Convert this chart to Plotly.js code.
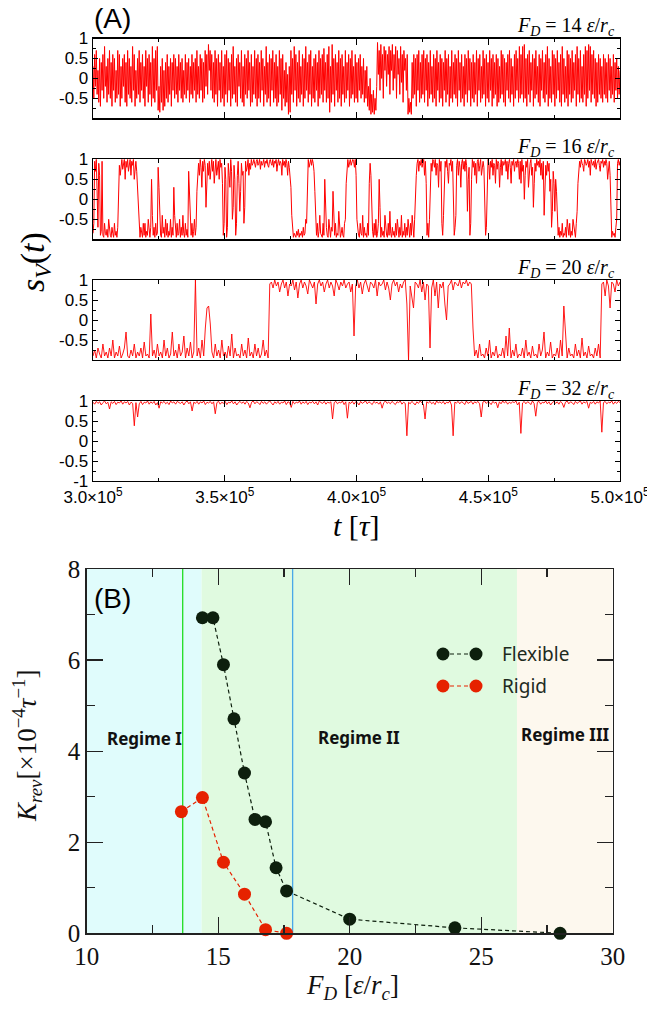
<!DOCTYPE html>
<html>
<head>
<meta charset="utf-8">
<script src="https://cdn.plot.ly/plotly-3.0.1.min.js"></script>
<style>html,body{margin:0;padding:0;background:#fff;}#chart{width:647px;height:1009px;}</style>
</head>
<body>
<div id="chart"></div>
<script>
// ---------------- DATA ----------------
// Panel (A): time window and S_V(t) samples on an even time grid
const tStart = 3.0e5;
const tEnd = 5.0e5;
const timeTickVals = [3.0e5, 3.5e5, 4.0e5, 4.5e5, 5.0e5];
const timeTickText = ['3.0×10<sup>5</sup>', '3.5×10<sup>5</sup>', '4.0×10<sup>5</sup>', '4.5×10<sup>5</sup>', '5.0×10<sup>5</sup>'];
const panelLabels = ['14', '16', '20', '32'];

const sv14 = [
 0.3,-0.5,0.6,-0.2,0.7,-0.4,0.2,-0.6,0.5,-0.7,0.4,-0.3,0.6,-0.5,0.8,-0.2,0.3,-0.6,0.5,-0.4,
 0.7,-0.5,0.4,-0.7,0.6,-0.3,0.5,-0.6,0.2,-0.5,0.7,-0.4,0.6,-0.7,0.3,-0.5,0.5,-0.2,0.6,-0.6,
 0.4,-0.7,0.7,-0.4,0.5,-0.5,0.3,-0.6,0.8,-0.3,0.6,-0.7,0.2,-0.5,0.5,-0.4,0.7,-0.6,0.4,-0.3,
 0.6,-0.5,0.3,-0.7,0.7,-0.2,0.5,-0.6,0.6,-0.4,0.4,-0.7,0.8,-0.5,0.5,-0.6,0.7,-0.3,0.8,-0.8,
 -0.2,-0.85,0.3,-0.6,0.5,-0.8,0.2,-0.7,0.4,-0.5,0.6,-0.6,0.3,-0.4,0.5,-0.7,0.4,-0.3,0.6,-0.5,
 0.5,-0.4,0.3,-0.6,0.6,-0.3,0.4,-0.5,0.5,-0.6,0.2,-0.4,0.6,-0.5,0.4,-0.3,0.5,-0.6,0.3,-0.4,
 0.6,-0.5,0.4,-0.3,0.5,-0.6,0.7,-0.4,0.3,-0.5,0.6,-0.3,0.5,-0.6,0.4,-0.5,0.7,-0.2,0.6,-0.4,
 0.85,0.2,0.7,-0.3,0.6,-0.5,0.4,-0.6,0.7,-0.4,0.5,-0.7,0.6,-0.3,0.4,-0.6,0.7,-0.5,0.3,-0.7,
 0.6,-0.4,0.7,-0.6,0.5,-0.3,0.4,-0.7,0.6,-0.5,0.8,-0.4,0.3,-0.6,0.5,-0.7,0.6,-0.2,0.4,-0.5,
 0.7,-0.6,0.3,-0.7,0.6,-0.4,0.5,-0.5,0.7,-0.3,0.4,-0.7,0.6,-0.6,0.3,-0.4,0.7,-0.5,0.5,-0.7,
 0.6,-0.5,0.4,-0.6,0.7,-0.3,0.5,-0.7,0.3,-0.4,0.8,-0.6,0.4,-0.5,0.6,-0.7,0.5,-0.3,0.7,-0.6,
 0.4,-0.5,0.6,-0.7,0.3,-0.6,0.7,-0.4,0.5,-0.8,0.6,-0.5,0.2,-0.7,0.4,-0.6,0.1,-0.9,0.3,-0.85,
 0.7,-0.4,0.5,-0.6,0.8,-0.3,0.6,-0.7,0.4,-0.5,0.7,-0.6,0.3,-0.4,0.6,-0.7,0.5,-0.5,0.8,-0.3,
 0.4,-0.6,0.6,-0.4,0.7,-0.7,0.3,-0.5,0.5,-0.6,0.6,-0.3,0.4,-0.7,0.7,-0.5,0.5,-0.4,0.6,-0.6,
 0.75,-0.3,0.4,-0.6,0.6,-0.5,0.8,-0.85,0.3,-0.6,0.85,-0.4,0.5,-0.7,0.6,-0.3,0.4,-0.6,0.7,-0.5,
 0.5,-0.7,0.6,-0.4,0.3,-0.6,0.7,-0.5,0.4,-0.3,0.6,-0.7,0.5,-0.5,0.7,-0.4,0.3,-0.6,0.6,-0.5,
 0.4,-0.6,0.5,-0.3,0.6,-0.5,0.3,-0.4,0.5,-0.6,0.2,-0.5,0.3,-0.7,-0.2,-0.8,0.0,-0.9,-0.4,-0.85,
 -0.3,-0.9,-0.5,-0.8,-0.2,0.9,0.1,0.7,-0.3,0.85,0.0,0.6,-0.5,0.8,0.2,0.7,-0.2,0.6,0.1,0.8,
 -0.4,0.7,0.2,0.85,-0.3,0.6,0.0,0.8,-0.5,0.7,0.1,0.5,-0.4,0.8,-0.1,0.6,-0.6,0.7,0.2,0.5,
 -0.3,0.6,-0.9,-0.5,-0.85,-0.6,-0.9,0.4,-0.5,0.6,-0.4,0.5,-0.7,0.6,-0.3,0.7,-0.6,0.4,-0.5,0.6,
 -0.4,0.7,-0.6,0.5,-0.3,0.6,-0.7,0.4,-0.5,0.7,-0.4,0.3,-0.6,0.6,-0.5,0.5,-0.7,0.7,-0.3,0.4,
 -0.6,0.6,-0.5,0.5,-0.7,0.4,-0.3,0.7,-0.6,0.5,-0.4,0.6,-0.7,0.3,-0.5,0.7,-0.6,0.4,-0.4,0.6,
 -0.5,0.5,-0.7,0.7,-0.3,0.4,-0.6,0.6,-0.5,0.3,-0.7,0.6,-0.4,0.5,-0.6,0.7,-0.3,0.5,-0.7,0.4,
 -0.5,0.6,-0.6,0.4,-0.4,0.7,-0.7,0.5,-0.3,0.6,-0.6,0.3,-0.5,0.7,-0.4,0.5,-0.7,0.6,-0.5,0.4,
 -0.6,0.7,-0.3,0.5,-0.7,0.6,-0.5,0.4,-0.4,0.6,-0.7,0.5,-0.6,0.3,-0.5,0.7,-0.4,0.6,-0.6,0.5,
 -0.7,0.4,-0.3,0.6,-0.5,0.7,-0.6,0.5,-0.4,0.3,-0.7,0.6,-0.5,0.7,-0.3,0.5,-0.6,0.8,-0.5,0.6,
 -0.4,0.8,-0.6,0.85,-0.5,0.5,-0.7,0.6,-0.4,0.7,-0.6,0.4,-0.3,0.6,-0.7,0.5,-0.5,0.7,-0.4,0.3,
 -0.6,0.6,-0.7,0.5,-0.3,0.7,-0.5,0.4,-0.6,0.6,-0.4,0.8,-0.7,0.5,-0.5,0.3,-0.6,0.7,-0.4,0.6,
 -0.7,0.5,-0.5,0.7,-0.3,0.4,-0.6,0.6,-0.7,0.8,-0.4,0.5,-0.6,0.3,-0.5,0.7,-0.7,0.6,-0.4,0.5,
 -0.6,0.7,-0.5,0.4,-0.3,0.6,-0.7,0.8,-0.4,0.5,-0.6,0.7,-0.5,0.3,-0.6,0.6,-0.4,0.8,-0.7,0.7,
 -0.5,0.85,-0.3,0.8,-0.6,0.6,-0.4,0.7,-0.5,0.5,-0.7,0.4,-0.6,0.6,-0.4,0.5,-0.5,0.3,-0.6,0.6,
 -0.4,0.5,-0.5,0.4,-0.6,0.6,-0.3,0.5,-0.5,0.3,-0.4,0.6,-0.6,0.4,-0.3,0.5,-0.5,0.3,-0.4,0.2
];

const sv16 = [
 -0.85,-0.6,0.95,0.7,1.0,-0.5,-0.7,0.9,0.6,-0.9,-0.8,0.95,
 -0.9,-0.95,-0.6,-0.85,-0.9,-0.75,-0.95,-0.5,-0.85,-0.9,-0.95,-0.7,-0.85,-0.95,-0.6,-0.9,-0.8,-0.95,-0.7,0.3,
 0.85,0.6,0.95,1.0,0.75,0.9,1.0,0.5,0.95,0.8,1.0,0.7,0.9,1.0,0.6,0.95,0.85,1.0,0.5,0.9,0.95,0.7,
 0.2,-0.3,-0.9,-0.95,-0.7,-0.9,-0.95,-0.6,
 -0.9,-0.6,-0.95,-0.8,-0.9,-0.5,-0.85,-0.95,-0.7,0.5,
 -0.4,-0.9,-0.7,-0.95,-0.6,-0.9,-0.85,0.8,0.3,-0.6,
 -0.9,-0.95,-0.4,-0.85,-0.7,-0.95,-0.5,-0.9,-0.6,-0.95,
 -0.8,-0.9,-0.5,-0.95,-0.7,-0.9,0.3,-0.4,-0.8,-0.95,
 -0.6,-0.9,-0.85,-0.5,-0.95,-0.7,-0.9,-0.4,-0.85,-0.95,
 -0.6,-0.9,-0.75,-0.95,0.7,0.2,-0.5,-0.9,-0.6,-0.95,
 -0.8,-0.5,-0.9,-0.7,0.2,0.6,
 0.9,0.6,1.0,0.8,0.3,0.95,0.7,1.0,0.85,-0.2,0.4,0.9,0.6,0.95,0.5,0.8,1.0,0.7,0.95,0.4,0.9,1.0,0.6,0.85,0.95,0.5,1.0,0.8,0.9,0.4,
 -0.9,-0.6,0.8,0.5,-0.95,-0.7,0.9,0.6,0.3,1.0,0.7,-0.5,-0.2,0.85,0.5,-0.9,-0.6,0.6,0.95,0.4,-0.3,0.2,0.9,0.6,0.7,-0.6,-0.2,0.95,0.7,0.8,1.0,0.6,0.9,0.75,1.0,0.85,
 0.9,1.0,0.85,0.8,0.95,1.0,0.85,0.9,1.0,0.75,0.95,0.85,0.9,1.0,0.8,0.95,0.9,1.0,0.85,0.8,0.95,1.0,0.9,0.85,1.0,0.8,0.95,0.9,1.0,0.7,0.9,1.0,0.85,0.95,0.9,0.6,1.0,0.85,0.95,0.8,1.0,0.9,0.6,0.95,0.8,0.5,0.3,
 -0.4,-0.7,-0.95,-0.85,-0.9,-0.95,-0.8,-0.9,-0.75,-0.95,-0.85,-0.9,-0.8,-0.95,-0.7,-0.9,-0.85,-0.5,-0.6,0.6,
 1.0,0.8,0.95,1.0,0.85,1.0,0.9,0.7,0.2,-0.2,
 -0.9,-0.6,-0.95,-0.8,-0.4,-0.85,-0.9,-0.95,-0.6,-0.9,0.5,-0.3,-0.7,-0.9,-0.95,-0.5,-0.85,-0.95,-0.7,-0.8,0.2,-0.5,-0.9,-0.6,-0.95,-0.85,-0.9,-0.3,-0.6,-0.95,-0.85,-0.7,-0.9,-0.95,-0.6,-0.5,0.4,0.8,
 1.0,0.8,0.95,1.0,0.85,0.9,1.0,0.95,0.8,1.0,0.6,-0.5,-0.8,
 -0.9,-0.95,-0.6,-0.85,-0.9,-0.4,-0.95,-0.7,-0.9,-0.85,
 -0.95,-0.6,-0.9,0.4,0.9,0.6,-0.5,-0.8,-0.95,-0.6,
 -0.9,-0.5,-0.95,-0.85,-0.6,0.5,-0.2,-0.95,-0.7,-0.9,
 -0.8,-0.95,-0.4,-0.85,-0.9,-0.95,-0.6,-0.9,-0.3,-0.85,
 -0.95,-0.7,-0.9,-0.8,-0.95,-0.6,-0.9,-0.5,-0.85,-0.95,
 -0.7,-0.9,-0.4,-0.95,-0.8,-0.9,-0.6,-0.95,-0.7,-0.9,
 -0.5,-0.85,-0.95,-0.6,-0.9,-0.4,-0.7,-0.95,-0.5,0.2,0.6,
 0.9,1.0,0.7,0.95,0.85,1.0,0.8,0.9,1.0,0.6,0.95,0.4,-0.9,-0.6,-0.95,-0.5,0.6,0.9,0.7,1.0,
 0.95,0.8,1.0,0.6,0.9,0.85,0.3,1.0,0.7,0.95,
 -0.6,-0.9,-0.4,0.5,0.95,0.8,1.0,0.7,0.4,0.9,
 0.85,1.0,0.7,0.95,0.2,-0.9,-0.7,-0.4,0.85,1.0,
 0.6,0.95,0.8,0.3,0.9,1.0,0.75,0.95,0.7,1.0,
 0.85,-0.3,0.5,0.8,-0.9,-0.6,0.5,1.0,0.8,0.95,
 0.6,0.9,0.4,0.95,1.0,0.7,0.85,1.0,0.6,0.9,
 0.95,0.8,-0.5,-0.9,-0.7,0.7,1.0,0.9,0.5,0.95,
 0.8,1.0,0.6,0.9,0.85,0.4,1.0,0.75,0.95,0.9,
 0.3,0.8,1.0,0.6,0.95,0.85,0.9,1.0,0.7,0.95,
 0.5,0.9,1.0,0.8,0.4,0.95,0.85,1.0,0.7,0.9,
 0.95,0.8,1.0,
 0.9,0.5,0.95,0.4,1.0,0.7,0.85,0.0,0.6,0.95,0.8,1.0,0.3,0.7,0.9,1.0,0.6,0.8,-0.2,0.4,0.9,0.7,1.0,0.85,0.95,
 0.8,1.0,0.6,0.9,0.5,0.95,-0.4,0.2,0.85,0.6,0.95,0.7,0.9,0.2,0.5,-0.7,-0.3,0.7,0.4,-0.3,0.5,0.2,-0.6,-0.9,-0.7,-0.95,-0.8,-0.9,-0.6,-0.95,-0.85,-0.9,-0.7,-0.95,-0.5,-0.85,-0.9,-0.6,-0.95,-0.8,-0.9,-0.5,-0.7,-0.9,-0.95,-0.6,-0.3,0.4,0.8,
 0.95,0.8,1.0,0.9,0.85,0.7,1.0,0.95,0.85,0.9,1.0,0.8,0.95,0.6,1.0,0.9,0.85,0.95,0.8,1.0,0.75,0.9,0.95,1.0,0.85,0.7,0.95,0.9,1.0,0.8,0.95,0.85,1.0,0.9,0.5,0.8,0.95,0.6,
 -0.6,-0.95,-0.8,-0.9,-0.85,-0.95,-0.7,-0.5,
 0.9,1.0,0.85,0.95
];

const sv20 = [
 -0.9,-0.75,-0.95,-0.7,-0.85,-0.95,-0.6,-0.9,-0.8,-0.95,
 -0.7,-0.9,-0.5,-0.95,-0.8,-0.9,-0.65,-0.95,-0.85,-0.7,
 -0.3,-0.9,-0.95,-0.75,-0.9,-0.6,-0.95,-0.8,-0.9,-0.7,
 -0.95,-0.55,-0.9,-0.85,-0.95,0.15,-0.9,-0.75,-0.95,-0.6,
 -0.9,-0.8,-0.95,-0.5,-0.9,-0.7,-0.95,-0.85,-0.3,-0.9,
 -0.75,-0.95,-0.6,-0.9,-0.8,-0.4,-0.95,-0.7,-0.9,-0.55,
 -0.95,-0.8,1.0,-0.9,-0.7,-0.95,-0.5,-0.9,-0.2,0.3,
 0.35,-0.1,-0.8,-0.95,-0.6,-0.9,-0.75,-0.95,-0.5,-0.9,
 -0.8,-0.95,-0.65,-0.9,-0.35,-0.95,-0.7,-0.9,-0.85,-0.95,
 -0.6,-0.9,-0.75,-0.95,-0.45,-0.9,-0.8,-0.95,-0.6,-0.9,
 -0.7,-0.95,-0.85,-0.5,-0.9,-0.75,-0.95,
 0.9,0.95,0.8,1.0,0.85,0.95,0.7,0.9,1.0,0.8,
 0.95,0.6,0.9,0.85,1.0,0.75,0.95,0.55,0.9,1.0,
 0.8,0.95,0.85,0.65,1.0,0.9,0.8,0.95,0.4,0.9,
 1.0,0.85,0.95,0.7,0.9,1.0,0.8,0.95,0.85,0.6,
 1.0,0.9,0.75,0.95,0.85,1.0,0.8,0.9,0.95,0.7,
 0.9,-0.4,0.85,1.0,0.8,0.95,0.65,0.9,1.0,0.85,
 0.7,0.95,0.9,0.8,1.0,0.6,0.95,0.85,0.9,1.0,
 0.75,0.95,0.8,0.5,0.9,1.0,0.85,0.95,0.7,0.9,
 0.8,0.95,1.0,0.4,-1.0,0.85,0.6,0.3,0.95,0.9,
 0.8,1.0,0.7,0.95,0.5,0.9,0.85,-0.7,0.8,1.0,
 0.6,0.95,0.3,0.9,0.8,0.95,0.4,0.0,0.85,0.9,
 1.0,0.75,0.95,0.9,0.85,1.0,0.8,0.95,0.9,1.0,
 0.85,0.95,0.9,-0.2,
 -0.9,-0.75,-0.95,-0.6,-0.9,-0.85,-0.95,-0.7,-0.9,-0.5,
 -0.95,-0.8,-0.9,-0.65,-0.95,-0.85,-0.9,-0.7,-0.95,-0.4,
 -0.9,-0.2,-0.95,-0.75,-0.9,-0.6,-0.95,-0.85,-0.9,-0.7,
 -0.95,-0.5,-0.9,-0.8,-0.95,-0.65,-0.9,-0.85,-0.95,-0.6,
 -0.9,-0.75,-0.3,-0.95,-0.8,-0.9,-0.55,-0.95,-0.85,-0.9,
 -0.7,-0.95,-0.5,-0.9,0.35,-0.3,-0.95,-0.7,-0.9,-0.85,
 -0.95,-0.6,-0.9,-0.75,-0.95,-0.45,-0.9,-0.8,-0.95,-0.65,
 -0.9,-0.85,-0.95,-0.7,-0.9,-0.6,-0.95,
 0.9,0.95,0.6,1.0,0.85,0.3,0.95,0.9,0.7,1.0,0.85,0.95
];

const sv32 = [
 0.97,0.92,0.99,0.94,0.98,0.9,0.96,1.0,0.93,0.97,
 0.8,0.98,0.94,0.99,0.91,0.97,0.95,1.0,0.92,0.98,
 0.95,0.99,0.9,0.97,0.94,0.38,0.96,0.6,0.93,0.99,
 0.91,0.97,0.95,1.0,0.92,0.98,0.94,0.99,0.9,0.96,
 0.82,0.98,0.95,0.99,0.93,0.97,0.91,1.0,0.95,0.98,
 0.92,0.99,0.96,0.94,0.98,0.9,0.97,1.0,0.93,0.98,
 0.75,0.97,0.94,0.99,0.92,0.98,0.95,1.0,0.91,0.97,
 0.95,0.99,0.93,0.98,0.68,0.96,0.99,0.92,0.97,0.94,
 0.99,0.91,0.97,0.95,1.0,0.93,0.98,0.9,0.96,0.99,
 0.94,0.98,0.92,0.99,0.95,0.83,0.97,1.0,0.93,0.98,
 0.96,0.91,0.99,0.94,0.98,0.92,0.97,1.0,0.95,0.9,
 0.98,0.94,0.99,0.92,0.97,0.95,1.0,0.91,0.98,0.96,
 0.84,0.99,0.93,0.97,0.95,1.0,0.92,0.98,0.94,0.99,
 0.91,0.97,0.95,0.99,0.93,0.98,0.9,1.0,0.96,0.94,
 0.99,0.92,0.97,0.95,0.98,0.55,0.96,0.99,0.93,0.97,
 0.95,1.0,0.91,0.98,0.57,0.97,0.94,0.99,0.92,0.98,
 0.96,0.9,0.99,0.94,0.97,1.0,0.93,0.98,0.95,0.91,
 0.99,0.95,0.97,0.92,0.98,0.82,0.96,1.0,0.94,0.97,
 0.93,0.99,0.95,0.91,0.98,0.96,1.0,0.92,0.97,0.94,
 0.13,0.97,0.93,0.99,0.95,0.9,0.98,0.94,1.0,0.96,
 0.92,0.55,0.98,0.95,0.99,0.93,0.97,0.91,1.0,0.95,
 0.98,0.94,0.99,0.92,0.97,0.95,1.0,0.9,0.13,0.97,
 0.95,0.99,0.93,0.98,0.96,0.91,1.0,0.94,0.97,0.99,
 0.92,0.98,0.95,0.99,0.93,0.6,0.97,1.0,0.94,0.98,
 0.96,0.91,0.99,0.95,0.97,0.83,0.98,0.93,1.0,0.95,
 0.99,0.92,0.97,0.94,0.98,0.96,1.0,0.9,0.97,0.19,
 0.95,0.99,0.93,0.98,0.96,0.91,1.0,0.94,0.62,0.97,
 0.99,0.92,0.97,0.95,1.0,0.93,0.98,0.9,0.96,0.99,
 0.94,0.98,0.92,0.99,0.95,0.84,0.97,1.0,0.93,0.98,
 0.96,0.91,0.99,0.94,0.97,1.0,0.92,0.98,0.95,0.99,
 0.82,0.97,0.94,0.99,0.92,0.98,0.95,1.0,0.22,0.96,
 0.99,0.93,0.97,0.95,1.0,0.92,0.98,0.94,0.99,0.96
];

// Panel (B): reversal rate vs driving force
const flexibleFD = [14.4, 14.8, 15.2, 15.6, 16.0, 16.4, 16.8, 17.2, 17.6, 20, 24, 28];
const flexibleK  = [6.93, 6.93, 5.90, 4.71, 3.52, 2.50, 2.45, 1.44, 0.93, 0.31, 0.12, 0.0];
const rigidFD = [13.6, 14.4, 15.2, 16.0, 16.8, 17.6];
const rigidK  = [2.67, 2.98, 1.56, 0.86, 0.08, 0.0];
const regimeBounds = [10, 14.37, 26.36, 30];
const regimeNames = ['Regime I', 'Regime II', 'Regime III'];
const markerLines = [13.65, 17.83];

// ---------------- LAYOUT HELPERS ----------------
const W = 647, H = 1009;
const px = x => x / W;
const py = y => 1 - y / H;

function timeGrid(n) {
  const out = [];
  for (let i = 0; i < n; i++) out.push(tStart + i * (tEnd - tStart) / (n - 1));
  return out;
}

const seriesA = [sv14, sv16, sv20, sv32];
const lineWidths = [1.0, 1.0, 0.9, 0.9];
const panelTop = [38.5, 159.3, 280, 401];
const panelBot = [118.3, 239.3, 360, 481];
const axA_x = [93, 620];

const data = [];
const layout = {
  width: W, height: H,
  margin: {l: 0, r: 0, t: 0, b: 0},
  paper_bgcolor: '#ffffff',
  plot_bgcolor: '#ffffff',
  showlegend: false,
  annotations: [],
  shapes: []
};

const sansA = 'Liberation Sans, Arial, sans-serif';
const serif = 'Liberation Serif, Times New Roman, serif';

seriesA.forEach((s, k) => {
  const n = k + 1;
  const xa = 'xaxis' + (n === 1 ? '' : n);
  const ya = 'yaxis' + (n === 1 ? '' : n);
  data.push({
    type: 'scatter', mode: 'lines',
    x: timeGrid(s.length), y: s,
    xaxis: 'x' + (n === 1 ? '' : n), yaxis: 'y' + (n === 1 ? '' : n),
    line: {color: '#ff0000', width: lineWidths[k]},
    hoverinfo: 'skip'
  });
  const last = k === 3;
  layout[xa] = {
    domain: [px(axA_x[0]), px(axA_x[1])],
    anchor: 'y' + (n === 1 ? '' : n),
    range: [tStart, tEnd],
    tickmode: 'array', tickvals: timeTickVals,
    ticktext: last ? timeTickText : timeTickVals.map(() => ''),
    ticks: 'inside', ticklen: 6, tickwidth: 1, tickcolor: '#000',
    minor: {ticks: 'inside', dtick: 25000, tick0: 300000, ticklen: 3.5, tickwidth: 1, tickcolor: '#000'},
    showline: true, linecolor: '#000', linewidth: 1.3, mirror: 'ticks',
    showgrid: false, zeroline: false,
    ticklabeloverflow: 'allow',
    tickfont: {family: sansA, size: 17, color: '#000'},
    fixedrange: true
  };
  layout[ya] = {
    domain: [py(panelBot[k]), py(panelTop[k])],
    anchor: 'x' + (n === 1 ? '' : n),
    range: [-1, 1],
    tickmode: 'array', tickvals: [-1, -0.5, 0, 0.5, 1],
    ticktext: [last ? '-1' : '', '-0.5', '0', '0.5', '1'],
    ticks: 'inside', ticklen: 5, tickwidth: 1, tickcolor: '#000',
    minor: {ticks: 'inside', dtick: 0.25, tick0: 0, ticklen: 3, tickwidth: 1, tickcolor: '#000'},
    showline: true, linecolor: '#000', linewidth: 1.3, mirror: 'ticks',
    showgrid: false, zeroline: false,
    ticklabeloverflow: 'allow',
    tickfont: {family: sansA, size: 17, color: '#000'},
    fixedrange: true
  };
  layout.annotations.push({
    xref: 'paper', yref: 'paper', x: px(617), y: py(panelTop[k] - 12),
    xanchor: 'right', yanchor: 'middle', showarrow: false,
    text: '<i>F</i><sub><i>D</i></sub> = ' + panelLabels[k] + ' <i>ε</i>/<i>r</i><sub><i>c</i></sub>',
    font: {family: serif, size: 20, color: '#000'}
  });
});

// Panel B traces
data.push({
  type: 'scatter', mode: 'lines+markers', name: 'Flexible',
  x: flexibleFD, y: flexibleK, xaxis: 'x5', yaxis: 'y5',
  line: {color: '#0d1f0d', width: 1.2, dash: '4px,3px'},
  marker: {color: '#0d1f0d', size: 13},
  cliponaxis: false
});
data.push({
  type: 'scatter', mode: 'lines+markers', name: 'Rigid',
  x: rigidFD, y: rigidK, xaxis: 'x5', yaxis: 'y5',
  line: {color: '#e62200', width: 1.2, dash: '4px,3px'},
  marker: {color: '#e62200', size: 13},
  cliponaxis: false
});

const bX = [86.7, 612.7], bY = [569, 933.3];
layout.xaxis5 = {
  domain: [px(bX[0]), px(bX[1])], anchor: 'y5',
  range: [10, 30], tickmode: 'array', tickvals: [10, 15, 20, 25, 30],
  ticks: 'inside', ticklen: 16, tickwidth: 1.2, tickcolor: '#222',
  minor: {ticks: 'inside', dtick: 2.5, tick0: 10, ticklen: 8, tickwidth: 1.2, tickcolor: '#222'},
  showline: true, linecolor: '#222', linewidth: 1.5, mirror: 'ticks',
  showgrid: false, zeroline: false,
  tickfont: {family: serif, size: 25, color: '#111'},
  fixedrange: true
};
layout.yaxis5 = {
  domain: [py(bY[1]), py(bY[0])], anchor: 'x5',
  range: [0, 8], tickmode: 'array', tickvals: [0, 2, 4, 6, 8],
  ticks: 'inside', ticklen: 16, tickwidth: 1.2, tickcolor: '#222',
  minor: {ticks: 'inside', dtick: 1, tick0: 0, ticklen: 8, tickwidth: 1.2, tickcolor: '#222'},
  showline: true, linecolor: '#222', linewidth: 1.5, mirror: 'ticks',
  showgrid: false, zeroline: false,
  tickfont: {family: serif, size: 25, color: '#111'},
  fixedrange: true
};

// regime backgrounds
const regimeColors = ['#e0fcfc', '#e0fae0', '#fdf8ee'];
for (let r = 0; r < 3; r++) {
  layout.shapes.push({
    type: 'rect', xref: 'x5', yref: 'y5 domain', layer: 'below',
    x0: regimeBounds[r], x1: regimeBounds[r + 1], y0: 0, y1: 1,
    fillcolor: regimeColors[r], line: {width: 0}
  });
}
const lineColors = ['#22dd22', '#4aa8e8'];
markerLines.forEach((v, i) => {
  layout.shapes.push({
    type: 'line', xref: 'x5', yref: 'y5 domain', layer: 'below',
    x0: v, x1: v, y0: 0, y1: 1, line: {color: lineColors[i], width: 1.3}
  });
});

// manual legend
const legendRows = [
  {name: 'Flexible', color: '#0d1f0d', y: 654},
  {name: 'Rigid', color: '#e62200', y: 686}
];
legendRows.forEach(row => {
  layout.shapes.push({
    type: 'line', xref: 'paper', yref: 'paper',
    x0: px(443), x1: px(476), y0: py(row.y), y1: py(row.y),
    line: {color: row.color, width: 1.2, dash: '4px,3px'}
  });
  [443, 476].forEach(cx => {
    layout.shapes.push({
      type: 'circle', xref: 'paper', yref: 'paper',
      x0: px(cx - 6.5), x1: px(cx + 6.5), y0: py(row.y + 6.5), y1: py(row.y - 6.5),
      fillcolor: row.color, line: {width: 0}
    });
  });
  layout.annotations.push({
    xref: 'paper', yref: 'paper', x: px(500), y: py(row.y),
    xanchor: 'left', yanchor: 'middle', showarrow: false,
    text: row.name, font: {family: 'Noto Sans, sans-serif', size: 19, color: '#1e2b1e'}
  });
});

// regime labels
const regimeLabelPos = [[144, 738], [359, 737], [565, 734]];
regimeNames.forEach((nm, i) => {
  layout.annotations.push({
    xref: 'paper', yref: 'paper', x: px(regimeLabelPos[i][0]), y: py(regimeLabelPos[i][1]),
    xanchor: 'center', yanchor: 'middle', showarrow: false,
    text: '<b>' + nm + '</b>', font: {family: 'Noto Sans, sans-serif', size: 17, color: '#111'}
  });
});

// titles and panel tags
layout.annotations.push(
  {xref: 'paper', yref: 'paper', x: px(113), y: py(18), xanchor: 'center', yanchor: 'middle', showarrow: false,
   text: '(A)', font: {family: sansA, size: 28, color: '#000'}},
  {xref: 'paper', yref: 'paper', x: px(112), y: py(598), xanchor: 'center', yanchor: 'middle', showarrow: false,
   text: '(B)', font: {family: sansA, size: 28, color: '#000'}},
  {xref: 'paper', yref: 'paper', x: px(35), y: py(262), xanchor: 'center', yanchor: 'middle', showarrow: false,
   textangle: -90, text: '<i>s</i><sub><i>V</i></sub>(<i>t</i>)', font: {family: serif, size: 34, color: '#000'}},
  {xref: 'paper', yref: 'paper', x: px(356), y: py(525), xanchor: 'center', yanchor: 'middle', showarrow: false,
   text: '<i>t</i> [<i>τ</i>]', font: {family: serif, size: 30, color: '#000'}},
  {xref: 'paper', yref: 'paper', x: px(27), y: py(746), xanchor: 'center', yanchor: 'middle', showarrow: false,
   textangle: -90, text: '<i>K</i><sub><i>rev</i></sub>[×10<sup>−4</sup><i>τ</i><sup>−1</sup>]', font: {family: serif, size: 27, color: '#111'}},
  {xref: 'paper', yref: 'paper', x: px(352), y: py(987), xanchor: 'center', yanchor: 'middle', showarrow: false,
   text: '<i>F</i><sub><i>D</i></sub> [<i>ε</i>/<i>r</i><sub><i>c</i></sub>]', font: {family: serif, size: 27, color: '#111'}}
);

Plotly.newPlot('chart', data, layout, {displayModeBar: false, staticPlot: true});
</script>
</body>
</html>
